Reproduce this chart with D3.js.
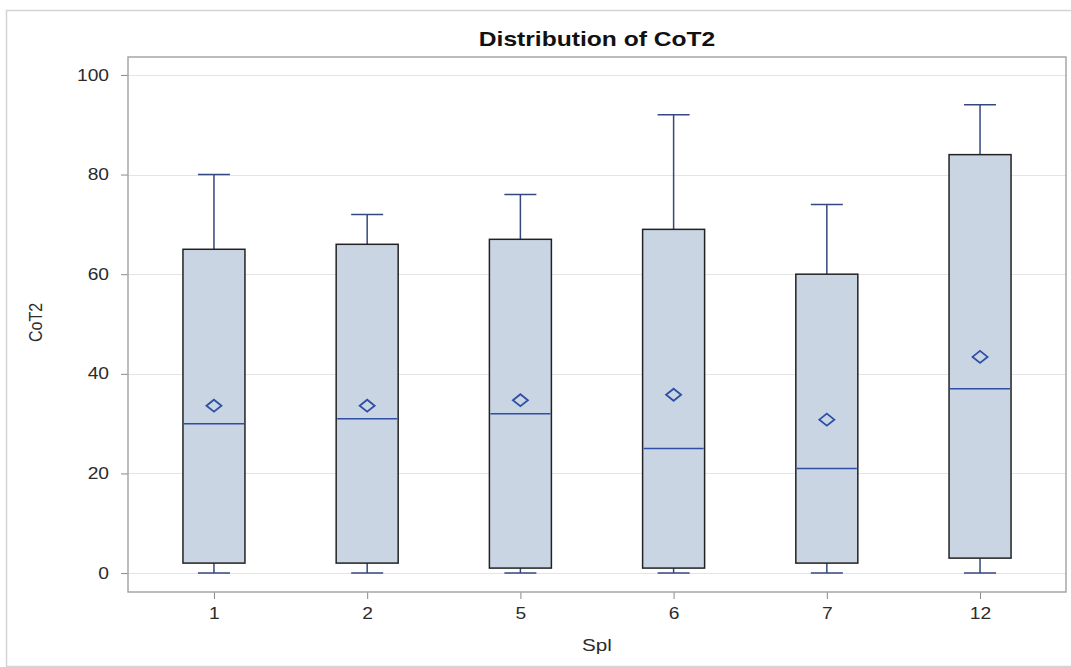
<!DOCTYPE html>
<html>
<head>
<meta charset="utf-8">
<script src="https://cdn.jsdelivr.net/npm/d3@7/dist/d3.min.js"></script>
<style>
  html, body { margin: 0; padding: 0; background: #fff; }
  svg { display: block; }
</style>
</head>
<body>
<svg id="chart" width="1071" height="667"></svg>
<script>
// Groups and per-group summary statistics of CoT2
const groups   = ["1", "2", "5", "6", "7", "12"];
const minVals  = [0, 0, 0, 0, 0, 0];
const q1Vals   = [2, 2, 1, 1, 2, 3];
const medVals  = [30, 31, 32, 25, 21, 37];
const q3Vals   = [65, 66, 67, 69, 60, 84];
const maxVals  = [80, 72, 76, 92, 74, 94];
const meanVals = [33.6, 33.6, 34.7, 35.8, 30.8, 43.4];
const yTicks   = [0, 20, 40, 60, 80, 100];

const rows = groups.map((g, i) => ({
  g, min: minVals[i], q1: q1Vals[i], med: medVals[i],
  q3: q3Vals[i], max: maxVals[i], mean: meanVals[i]
}));

const svg = d3.select("#chart");
const font = "'Liberation Sans', Arial, sans-serif";
const widen = 1.2;   // horizontal stretch applied to the text

// widen text glyphs horizontally while keeping their anchor
function stretch(sel, k) {
  sel.each(function () {
    const w = this.getComputedTextLength();
    d3.select(this).attr("textLength", w * k).attr("lengthAdjust", "spacingAndGlyphs");
  });
}

// outer frame of the graph area
svg.append("rect")
  .attr("x", 6.5).attr("y", 10.5)
  .attr("width", 1080).attr("height", 656)
  .attr("fill", "#fff").attr("stroke", "#d4d4d4").attr("stroke-width", 1.5);

const plot = { left: 128, right: 1066, top: 57, bottom: 592 };

const x = d3.scalePoint()
  .domain(groups)
  .range([plot.left, plot.right])
  .padding(0.561);

const y = d3.scaleLinear()
  .domain([-3.8, 103.6])
  .range([plot.bottom, plot.top]);

// horizontal grid lines
svg.append("g").selectAll("line")
  .data(yTicks).join("line")
  .attr("x1", plot.left).attr("x2", plot.right)
  .attr("y1", d => Math.round(y(d)) + 0.5).attr("y2", d => Math.round(y(d)) + 0.5)
  .attr("stroke", "#e4e4e4").attr("stroke-width", 1);

// axes
const yAxis = svg.append("g")
  .attr("transform", `translate(${plot.left},0)`)
  .call(d3.axisLeft(y).tickValues(yTicks).tickSize(7).tickPadding(12).tickFormat(d3.format("d")));
const xAxis = svg.append("g")
  .attr("transform", `translate(0,${plot.bottom})`)
  .call(d3.axisBottom(x).tickSize(7).tickPadding(9));

[yAxis, xAxis].forEach(a => {
  a.select(".domain").remove();
  a.selectAll(".tick line").attr("stroke", "#8a8a8a");
  a.selectAll(".tick text")
    .attr("fill", "#2b2b2b")
    .style("font-family", font)
    .style("font-size", "16px")
    .call(stretch, widen);
});

// plot frame
svg.append("rect")
  .attr("x", plot.left).attr("y", plot.top)
  .attr("width", plot.right - plot.left).attr("height", plot.bottom - plot.top)
  .attr("fill", "none").attr("stroke", "#a6a6a6").attr("stroke-width", 1.5);

const boxW = 62, capW = 32;
const whiskerColor = "#34477f";
const lineColor = "#2e4fa2";

const box = svg.append("g").selectAll("g")
  .data(rows).join("g")
  .attr("transform", d => `translate(${x(d.g)},0)`);

// whiskers
box.append("line")
  .attr("x1", 0).attr("x2", 0)
  .attr("y1", d => y(d.q3)).attr("y2", d => y(d.max))
  .attr("stroke", whiskerColor).attr("stroke-width", 1.5);
box.append("line")
  .attr("x1", 0).attr("x2", 0)
  .attr("y1", d => y(d.q1)).attr("y2", d => y(d.min))
  .attr("stroke", whiskerColor).attr("stroke-width", 1.5);
box.append("line")
  .attr("x1", -capW / 2).attr("x2", capW / 2)
  .attr("y1", d => y(d.max)).attr("y2", d => y(d.max))
  .attr("stroke", whiskerColor).attr("stroke-width", 1.5);
box.append("line")
  .attr("x1", -capW / 2).attr("x2", capW / 2)
  .attr("y1", d => y(d.min)).attr("y2", d => y(d.min))
  .attr("stroke", whiskerColor).attr("stroke-width", 1.5);

// interquartile boxes
box.append("rect")
  .attr("x", -boxW / 2).attr("width", boxW)
  .attr("y", d => y(d.q3)).attr("height", d => y(d.q1) - y(d.q3))
  .attr("fill", "#cad5e4").attr("stroke", "#222").attr("stroke-width", 1.5);

// medians
box.append("line")
  .attr("x1", -boxW / 2 + 1).attr("x2", boxW / 2 - 1)
  .attr("y1", d => y(d.med)).attr("y2", d => y(d.med))
  .attr("stroke", lineColor).attr("stroke-width", 1.5);

// means
box.append("path")
  .attr("d", d => {
    const cy = y(d.mean);
    return `M-7.5,${cy} L0,${cy - 6} L7.5,${cy} L0,${cy + 6} Z`;
  })
  .attr("fill", "none").attr("stroke", lineColor).attr("stroke-width", 1.8);

// title and axis labels
svg.append("text")
  .attr("x", (plot.left + plot.right) / 2).attr("y", 46)
  .attr("text-anchor", "middle")
  .style("font-family", font).style("font-weight", "bold").style("font-size", "20.5px")
  .attr("fill", "#111")
  .text("Distribution of CoT2")
  .call(stretch, widen);

svg.append("text")
  .attr("x", (plot.left + plot.right) / 2).attr("y", 651)
  .attr("text-anchor", "middle")
  .style("font-family", font).style("font-size", "16.5px")
  .attr("fill", "#2b2b2b")
  .text("Spl")
  .call(stretch, widen + 0.05);

// rotated label: widen along the screen x direction, i.e. glyph height
svg.append("text")
  .attr("transform", `translate(42,${(plot.top + plot.bottom) / 2 - 2}) scale(${widen},1) rotate(-90)`)
  .attr("text-anchor", "middle")
  .style("font-family", font)
  .style("font-size", "16px")
  .attr("fill", "#2b2b2b")
  .text("CoT2");
</script>
</body>
</html>
